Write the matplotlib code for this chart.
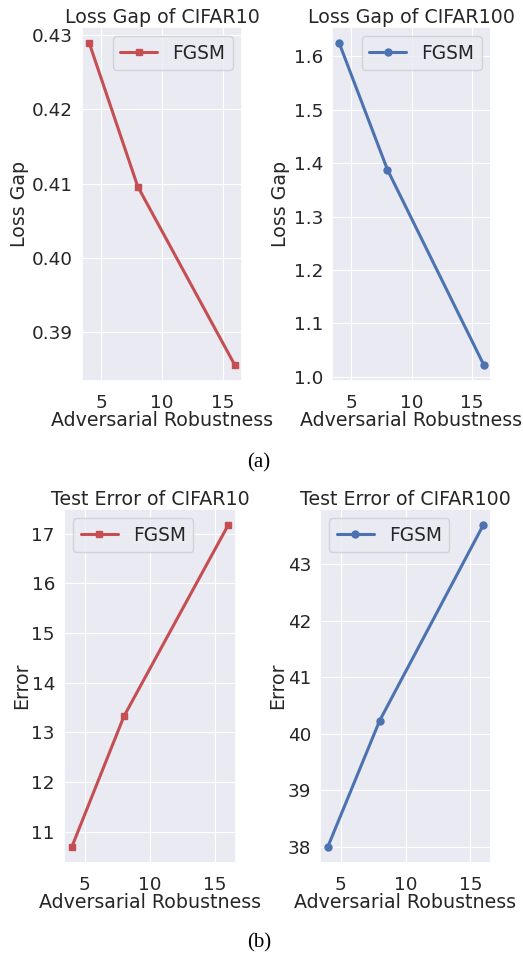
import matplotlib
matplotlib.use("Agg")
import matplotlib.pyplot as plt
import seaborn as sns

sns.set_theme(style="darkgrid")
plt.rcParams['font.family'] = ['DejaVu Sans']
plt.rcParams['grid.linewidth'] = 0.8

eps = [4, 8, 16]
loss_gap_c10 = [0.4289, 0.4096, 0.3856]
loss_gap_c100 = [1.625, 1.388, 1.022]
err_c10 = [10.69, 13.32, 17.17]
err_c100 = [38.0, 40.23, 43.69]
label = "FGSM"
red = "#C44E52"
blue = "#4C72B0"

W, H = 523, 961
fig = plt.figure(figsize=(W / 100, H / 100), dpi=100)

def ax_at(x0, y0, x1, y1):
    return fig.add_axes([x0 / W, 1 - y1 / H, (x1 - x0) / W, (y1 - y0) / H])

FS_T = 13.7
FS_TICK = 13.2

specs = [
    ((82, 27, 242, 381), loss_gap_c10, red, 's', "Loss Gap of CIFAR10", "Loss Gap", 'upper right', 2.5),
    ((332, 27, 491, 381), loss_gap_c100, blue, 'o', "Loss Gap of CIFAR100", "Loss Gap", 'upper right', 2.5),
    ((64, 509, 236, 863), err_c10, red, 's', "Test Error of CIFAR10", "Error", 'upper left', 0.5),
    ((320, 509, 491, 863), err_c100, blue, 'o', "Test Error of CIFAR100", "Error", 'upper left', 0.5),
]

for (box, ys, col, mk, title, ylab, loc, lp) in specs:
    ax = ax_at(*box)
    ax.plot(eps, ys, color=col, marker=mk, markersize=5, linewidth=2.2, label=label)
    ax.set_title(title, fontsize=FS_T, pad=3)
    ax.set_xlabel("Adversarial Robustness", fontsize=FS_T, labelpad=0)
    ax.tick_params(axis='x', labelsize=FS_TICK, pad=3)
    ax.tick_params(axis='y', labelsize=FS_TICK, size=0, pad=6.5)
    ax.set_ylabel(ylab, fontsize=FS_T, labelpad=lp)
    ax.set_xticks([5, 10, 15])
    ax.legend(loc=loc, fontsize=13.4, handlelength=2.0)

fig.text(259 / W, 1 - 463 / H, "(a)", ha='center', va='center', fontsize=15,
         family=['Liberation Serif', 'DejaVu Serif'], color='black')
fig.text(259 / W, 1 - 943 / H, "(b)", ha='center', va='center', fontsize=15,
         family=['Liberation Serif', 'DejaVu Serif'], color='black')

fig.savefig("out.png", dpi=100, facecolor='white')
